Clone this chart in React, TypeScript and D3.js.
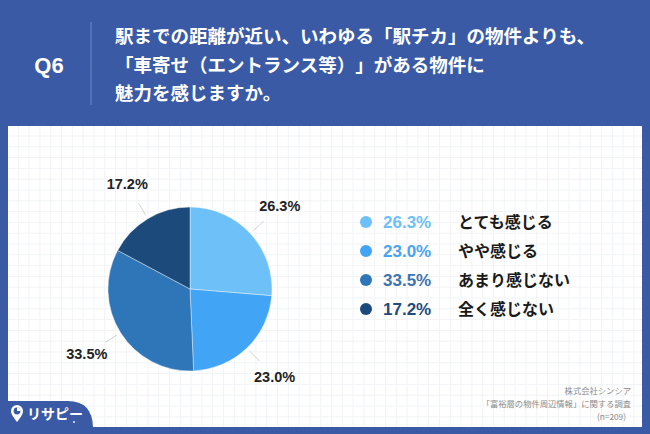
import * as d3 from "d3";

const answers = ["とても感じる", "やや感じる", "あまり感じない", "全く感じない"];
const shares = [26.3, 23.0, 33.5, 17.2];
const sliceColors = ["#6ec0f8", "#42a4f4", "#2f76b8", "#1c4b7b"];
const legendTextColors = ["#6ec0f8", "#4aa3f0", "#3e73b0", "#234a7c"];
const titleLines = [
  "駅までの距離が近い、いわゆる「駅チカ」の物件よりも、",
  "「車寄せ（エントランス等）」がある物件に",
  "魅力を感じますか。",
];
const sourceLines = ["株式会社シンシア", "「富裕層の物件周辺情報」に関する調査", "(n=209)"];

const W = 650;
const H = 434;
const BLUE = "#3b5aa5";
const JP = "'Noto Sans CJK JP', 'Noto Sans', sans-serif";
const NUM = "'Liberation Sans', Arial, sans-serif";

export default function App() {
  const panel = { x: 8, y: 126, w: 634, h: 301 };
  const cx = 190;
  const cy = 289;
  const r = 82;

  const pie = d3.pie<number>().sort(null).value((d) => d);
  const arcs = pie(shares);
  const arc = d3.arc<d3.PieArcDatum<number>>().innerRadius(0).outerRadius(r);
  const at = (rad: number) => d3.arc<d3.PieArcDatum<number>>().innerRadius(rad).outerRadius(rad);

  const gridStep = 10.8;
  const gx = d3.range(panel.x + 10.3, panel.x + panel.w, gridStep);
  const gy = d3.range(panel.y + 10, panel.y + panel.h, gridStep);

  const legendY = d3.scalePoint<number>().domain(d3.range(answers.length)).range([222, 309]);

  // keep full-width brackets at full width (no punctuation trimming)
  const noTrim = { textSpacingTrim: "space-all" } as React.CSSProperties;

  return (
    <svg width={W} height={H} style={{ position: "absolute", left: 0, top: 0, display: "block", ...noTrim }}>
      <rect width={W} height={H} fill={BLUE} />

      {/* header */}
      <text x={49} y={73} textAnchor="middle" fill="#fff" fontFamily={NUM} fontWeight="bold" fontSize={22}>
        Q6
      </text>
      <line x1={91} x2={91} y1={22} y2={105} stroke="#7089c6" strokeWidth={1} />
      {titleLines.map((t, i) => (
        <text key={i} x={115} y={43 + i * 28.5} fill="#fff" fontFamily={JP} fontWeight="bold" fontSize={18.5} style={noTrim}>
          {t}
        </text>
      ))}

      {/* white panel with grid */}
      <rect x={panel.x} y={panel.y} width={panel.w} height={panel.h} fill="#fff" />
      <g stroke="#f1f3f6" strokeWidth={1}>
        {gx.map((x, i) => (
          <line key={"v" + i} x1={x} x2={x} y1={panel.y} y2={panel.y + panel.h} />
        ))}
        {gy.map((y, i) => (
          <line key={"h" + i} x1={panel.x} x2={panel.x + panel.w} y1={y} y2={y} />
        ))}
      </g>

      {/* pie */}
      <g transform={`translate(${cx},${cy})`}>
        {arcs.map((a, i) => (
          <path key={i} d={arc(a) || ""} fill={sliceColors[i]} stroke="#fff" strokeWidth={0.4} />
        ))}
        {arcs.map((a, i) => {
          const p1 = at(r + 4).centroid(a);
          const p2 = at(r + 18).centroid(a);
          const pl = at(r + 40).centroid(a);
          return (
            <g key={"l" + i}>
              <line x1={p1[0]} y1={p1[1]} x2={p2[0]} y2={p2[1]} stroke="#cfd3d8" strokeWidth={1} />
              <text
                x={pl[0]}
                y={pl[1] + 5}
                textAnchor="middle"
                fill="#222"
                fontFamily={NUM}
                fontWeight="bold"
                fontSize={14.5}
              >
                {d3.format(".1f")(shares[i])}%
              </text>
            </g>
          );
        })}
      </g>

      {/* legend */}
      {answers.map((a, i) => {
        const y = legendY(i) as number;
        return (
          <g key={"lg" + i}>
            <circle cx={366} cy={y} r={6} fill={sliceColors[i]} />
            <text x={383} y={y + 6} fill={legendTextColors[i]} fontFamily={NUM} fontWeight="bold" fontSize={17}>
              {d3.format(".1f")(shares[i])}%
            </text>
            <text x={458} y={y + 6} fill="#1a1a1a" fontFamily={JP} fontWeight="bold" fontSize={16}>
              {a}
            </text>
          </g>
        );
      })}

      {/* source */}
      {sourceLines.map((t, i) => (
        <text
          key={"s" + i}
          x={i === 2 ? 626 : 631}
          y={394 + i * 13}
          textAnchor="end"
          fill="#8c8c8c"
          fontFamily={JP}
          fontSize={8.3}
          style={noTrim}
        >
          {t}
        </text>
      ))}

      {/* logo tab */}
      <path d="M0,401 H68 Q92,401 93,427 V434 H0 Z" fill={BLUE} />
      <g transform="translate(17,413)">
        <path d="M0,9 C-4,4 -6,1 -6,-2 A6,6 0 1,1 6,-2 C6,1 4,4 0,9 Z" fill="#fff" />
        <circle cx={0} cy={-2} r={3.4} fill={BLUE} />
        <path d="M0,-2 L0,-5.4 A3.4,3.4 0 0,1 3.4,-2 Z" fill="#fff" />
      </g>
      <text x={27} y={419} fill="#fff" fontFamily={JP} fontWeight="bold" fontSize={14}>
        リサピー
      </text>
      <circle cx={74} cy={422} r={0.9} fill="#fff" />
    </svg>
  );
}
